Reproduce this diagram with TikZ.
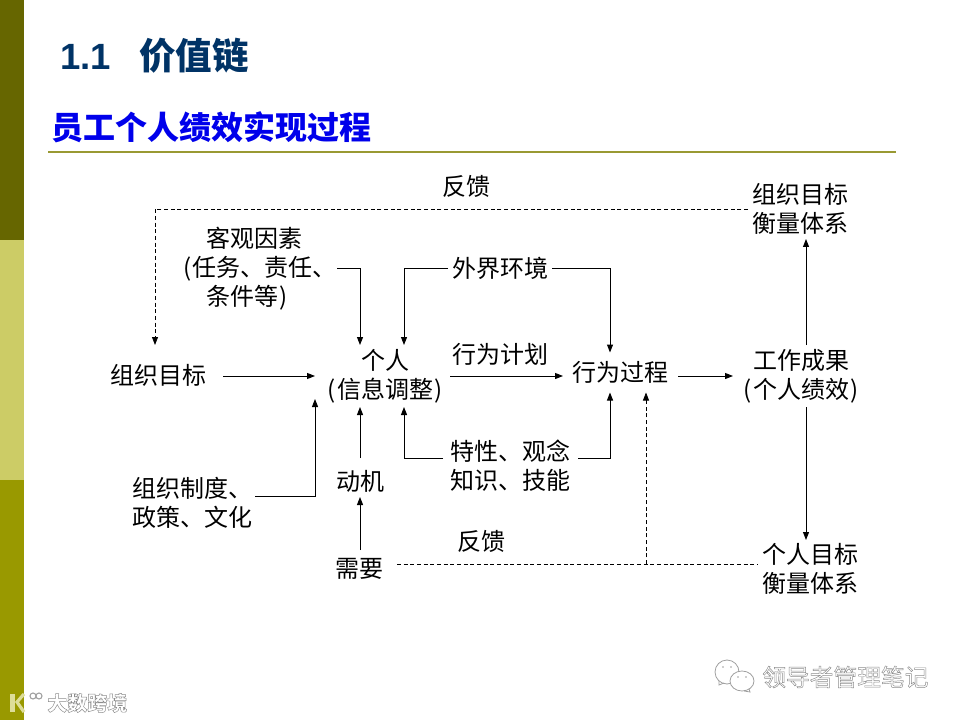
\documentclass[tikz,border=0pt]{standalone}
\usepackage{fontspec}
\setmainfont{Noto Sans CJK SC}
\newfontfamily\latinbold{Liberation Sans}[Scale=1]
\usetikzlibrary{arrows.meta,calc}
\definecolor{sideA}{HTML}{666600}
\definecolor{sideB}{HTML}{CCCC66}
\definecolor{sideC}{HTML}{999900}
\definecolor{ruleC}{HTML}{999933}
\definecolor{navy}{HTML}{003366}
\definecolor{markgray}{HTML}{A0A0A0}
\definecolor{markcream}{HTML}{DDDD99}
\newcommand{\lpar}{(\kern1.1pt}
\newcommand{\rpar}{\kern1.1pt)}
\newcommand{\hollow}[1]{\special{pdf:code 2 Tr 0.35 w 0.55 G}#1\special{pdf:code 0 Tr}}
\tikzset{
  box/.style={inner sep=0pt,outer sep=0pt,align=center,font=\fontsize{18pt}{21.75pt}\selectfont,text=black},
  link/.style={line width=0.75pt,-{Triangle[length=6pt,width=4.5pt]}},
  plain/.style={line width=0.75pt},
  dlink/.style={line width=0.6pt,dash pattern=on 3pt off 2pt,-{Triangle[length=6pt,width=4.5pt]}},
  dplain/.style={line width=0.6pt,dash pattern=on 3pt off 2pt},
}
\begin{document}
\begin{tikzpicture}[x=0.75pt,y=-0.75pt]
\useasboundingbox (0,0) rectangle (960,720);
\fill[white] (0,0) rectangle (960,720);
% side bands
\fill[sideA] (0,0) rectangle (24,240);
\fill[sideB] (0,240) rectangle (24,480);
\fill[sideC] (0,480) rectangle (24,720);
% titles
\node[anchor=base west,inner sep=0pt,text=navy,font=\fontsize{27.4pt}{30pt}\selectfont\bfseries] (title) at (60,70) {{\latinbold 1.1}\hspace{21pt}价值链};
\node[anchor=base west,inner sep=0pt,text=blue!92!black,font=\fontsize{24pt}{30pt}\selectfont\bfseries] (subtitle) at (51,140) {员工个人绩效实现过程};
\draw[ruleC,line width=1.5pt] (48,152) -- (896,152);
% guide coordinates
\coordinate (x0) at (155,0);
\coordinate (x1) at (360,0);
\coordinate (x2) at (404,0);
\coordinate (x3) at (610,0);
\coordinate (x4) at (646,0);
\coordinate (x5) at (806,0);
\coordinate (yd) at (0,564);
\coordinate (yt) at (0,458);
\coordinate (yr) at (0,496);
% nodes
\node[box,minimum width=130*0.75pt,minimum height=60*0.75pt] (org) at (158,375) {组织目标};
\node[box,align=left,minimum width=154*0.75pt] (obj) at (260,269) {\hspace*{17.25pt}客观因素\\\lpar 任务、责任、\\\hspace*{17.25pt}条件等\rpar};
\node[box,minimum width=104*0.75pt] (env) at (500,268.5) {外界环境};
\node[box,minimum width=135*0.75pt,minimum height=62*0.75pt] (person) at (382.5,376) {\hspace*{3.75pt}个人\\\hspace*{3.75pt}\lpar 信息调整\rpar};
\node[box] (plan) at (500,354) {行为计划};
\node[box,minimum width=115*0.75pt,minimum height=40*0.75pt] (proc) at (620.5,372.5) {行为过程};
\node[box,minimum width=136*0.75pt,minimum height=62*0.75pt] (result) at (801,376) {工作成果\\\lpar 个人绩效\rpar};
\node[box,minimum width=104*0.75pt,minimum height=60*0.75pt] (orgm) at (800,209) {组织目标\\衡量体系};
\node[box,minimum width=104*0.75pt,minimum height=57*0.75pt] (perm) at (810,568.5) {个人目标\\衡量体系};
\node[box,minimum width=135*0.75pt] (traits) at (510.5,465.5) {特性、观念\\知识、技能};
\node[box,minimum height=32*0.75pt] (mot) at (360,481) {动机};
\node[box,minimum width=76*0.75pt,minimum height=38*0.75pt] (need) at (359,569) {需要};
\node[box,minimum width=126*0.75pt] (rules) at (192,502.5) {组织制度、\\政策、文化};
\node[box] (fb1) at (466,186) {反馈};
\node[box] (fb2) at (481,541) {反馈};
% connectors
\draw[dlink] (orgm.west) -| (x0 |- org.north);
\draw[link] (org.east |- person.west) -- (person.west);
\draw[link] (obj.east) -| (x1 |- person.north);
\draw[link] (env.west) -| (x2 |- person.north);
\draw[link] (env.east) -| (x3 |- proc.north);
\draw[link] (person.east) -- (proc.west |- person.east);
\draw[link] (proc.east |- result.west) -- (result.west);
\draw[link] (x5 |- result.north) -- (x5 |- orgm.south);
\draw[link] (x5 |- result.south) -- (x5 |- perm.north);
\draw[link] (traits.west |- yt) -| (x2 |- person.south);
\draw[link] (traits.east |- yt) -| (x3 |- proc.south);
\draw[link] (x1 |- mot.north) ++(0,-7) -- (x1 |- person.south);
\draw[link] (x1 |- need.north) -- (x1 |- mot.south);
\draw[link,shorten >=-6pt] (rules.east |- yr) -| (person.south west);
\draw[dplain] (need.east |- yd) -- (perm.west |- yd);
\draw[dlink] (x4 |- yd) -- (x4 |- proc.south);
% watermarks
\node[anchor=west,inner sep=0pt,text=white,font=\fontsize{17.8pt}{20pt}\selectfont] (wm1) at (762,677) {\hollow{领导者管理笔记}};
\begin{scope}[draw=markgray,line width=0.6pt]
\draw[fill=white] (727,672) ellipse (12 and 12);
\draw (719,681) -- (719,685) -- (724,683);
\draw[fill=white] (742,681) ellipse (12 and 10);
\draw (749,689) -- (750,692) -- (744,691);
\fill[markgray] (723,667) circle (0.9) (731,667) circle (0.9) (738,677) circle (0.9) (746,677) circle (0.9);
\end{scope}
\node[anchor=west,inner sep=0pt,text=white,font=\fontsize{15pt}{18pt}\selectfont\bfseries] (wm2) at (47,703) {\hollow{大数跨境}};
\fill[markcream] (10,694) rectangle (15,712);
\draw[markcream,line width=2.4pt] (24,694) -- (17,702) -- (24,712);
\draw[markgray,line width=0.8pt] (33,696) circle (3) (39,696) circle (3);
\end{tikzpicture}
\end{document}
